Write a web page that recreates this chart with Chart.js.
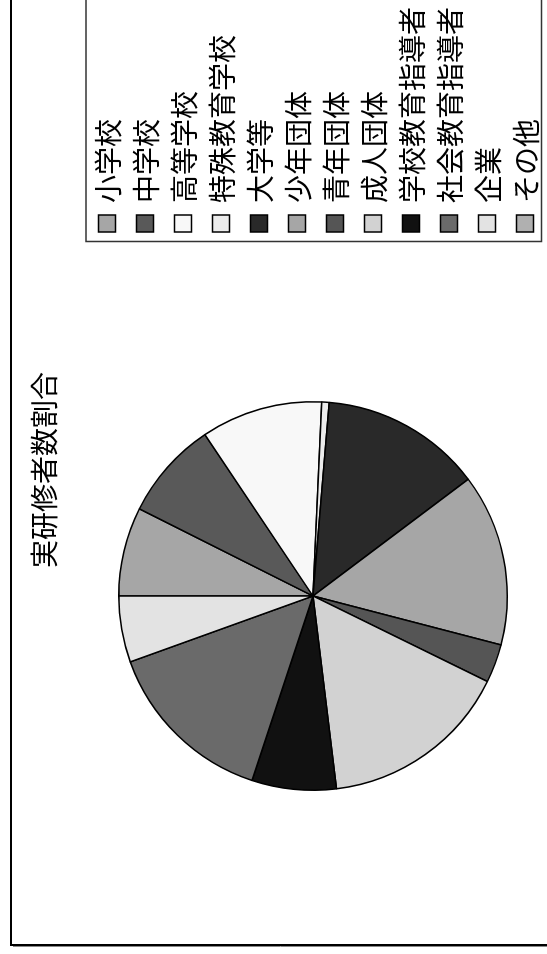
<!DOCTYPE html>
<html><head><meta charset="utf-8">
<script src="https://cdn.jsdelivr.net/npm/chart.js@4.4.1/dist/chart.umd.min.js"></script>
<style>
html,body{margin:0;padding:0;background:#fff;overflow:hidden}
#wrap{width:547px;height:954px;position:relative;overflow:hidden;background:#fff}
#rot{position:absolute;left:0;top:0;width:954px;height:547px;transform-origin:0 0;transform:translateY(954px) rotate(-90deg)}
</style></head><body>
<div id="wrap"><div id="rot"><canvas id="c" width="954" height="547"></canvas></div></div>
<script>
const chartTitle = '実研修者数割合';
const categories = ['小学校','中学校','高等学校','特殊教育学校','大学等','少年団体','青年団体','成人団体','学校教育指導者','社会教育指導者','企業','その他'];
const shares = [7.4, 8.2, 10.1, 0.6, 13.4, 14.3, 3.2, 15.8, 7.0, 14.4, 5.5, 0];
const colors = ['#a6a6a6','#595959','#f8f8f8','#ececec','#292929','#a6a6a6','#555555','#d2d2d2','#111111','#6a6a6a','#e3e3e3','#b0b0b0'];

const FONT = '"Noto Sans CJK JP", "Noto Sans", sans-serif';

const decor = {
  id: 'decor',
  beforeDraw(chart) {
    const ctx = chart.ctx;
    ctx.save();
    ctx.fillStyle = '#fff';
    ctx.fillRect(0, 0, chart.width, chart.height);
    // outer frame
    ctx.strokeStyle = '#000';
    ctx.lineWidth = 2;
    ctx.beginPath();
    ctx.moveTo(9, 600); ctx.lineTo(9, 11); ctx.lineTo(1000, 11);
    ctx.stroke();
    ctx.strokeStyle = '#888';
    ctx.lineWidth = 1;
    ctx.beginPath();
    ctx.moveTo(7.5, 600); ctx.lineTo(7.5, 13);
    ctx.stroke();
    ctx.restore();
  },
  afterDraw(chart) {
    const ctx = chart.ctx;
    ctx.save();
    // title
    ctx.fillStyle = '#000';
    ctx.font = '28px ' + FONT;
    ctx.textAlign = 'center';
    ctx.textBaseline = 'middle';
    ctx.fillText(chart.options.plugins.decor.title, 484, 44);
    // legend box
    ctx.strokeStyle = '#333';
    ctx.lineWidth = 1.5;
    ctx.strokeRect(712.5, 86, 260, 455.5);
    const labels = chart.data.labels;
    const bg = chart.data.datasets[0].backgroundColor;
    ctx.font = '28px ' + FONT;
    ctx.textAlign = 'left';
    labels.forEach((lab, i) => {
      const cy = 107 + 38 * i;
      ctx.fillStyle = bg[i];
      ctx.fillRect(722, cy - 8.5, 17, 17);
      ctx.strokeStyle = '#000';
      ctx.lineWidth = 1.5;
      ctx.strokeRect(722, cy - 8.5, 17, 17);
      ctx.fillStyle = '#000';
      ctx.fillText(lab, 751, cy + 1);
    });
    ctx.restore();
  }
};

new Chart(document.getElementById('c'), {
  type: 'pie',
  data: {
    labels: categories,
    datasets: [{
      data: shares,
      backgroundColor: colors,
      borderColor: '#000',
      borderWidth: 1.5
    }]
  },
  options: {
    responsive: false,
    animation: false,
    devicePixelRatio: 1,
    layout: { padding: { left: 163, top: 118, right: 401, bottom: 39 } },
    plugins: {
      legend: { display: false },
      title: { display: false },
      tooltip: { enabled: false },
      decor: { title: chartTitle }
    }
  },
  plugins: [decor]
});
</script>
</body></html>
